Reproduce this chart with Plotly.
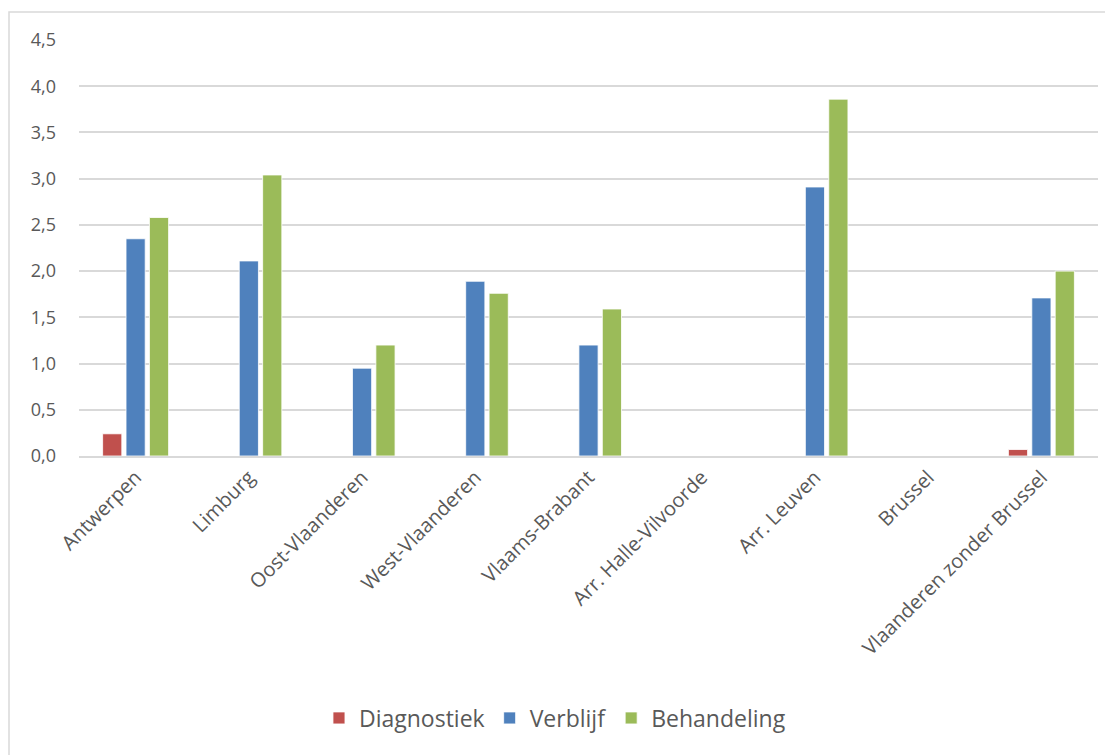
import plotly.graph_objects as go

categories = ["Antwerpen", "Limburg", "Oost-Vlaanderen", "West-Vlaanderen",
              "Vlaams-Brabant", "Arr. Halle-Vilvoorde", "Arr. Leuven", "Brussel",
              "Vlaanderen zonder Brussel"]
diagnostiek = [0.24, None, None, None, None, None, None, None, 0.07]
verblijf = [2.35, 2.11, 0.95, 1.89, 1.20, None, 2.91, None, 1.71]
behandeling = [2.58, 3.04, 1.20, 1.76, 1.59, None, 3.86, None, 2.00]
y_ticks = [0, 0.5, 1.0, 1.5, 2.0, 2.5, 3.0, 3.5, 4.0, 4.5]

series = [("Diagnostiek", diagnostiek, "#C0504D"),
          ("Verblijf", verblijf, "#4F81BD"),
          ("Behandeling", behandeling, "#9BBB59")]

fig = go.Figure()
for name, vals, col in series:
    fig.add_trace(go.Bar(x=categories, y=vals, name=name, marker_color=col,
                         marker_line_color="rgba(255,255,255,0.8)", marker_line_width=1))

# page body has an 8px margin, so the figure is drawn 8px smaller
W, H = 1105, 747
L, R, T, B = 71, 15, 32, 299
pw, ph = W - L - R, H - T - B

def px_to_paper_x(px):
    return (px - L) / pw

def px_to_paper_y(py):
    return (H - B - py) / ph

fig.update_layout(
    width=W, height=H,
    margin=dict(l=L, r=R, t=T, b=B, pad=0, autoexpand=False),
    paper_bgcolor="white", plot_bgcolor="white",
    separators=",.",
    barmode="group", bargap=0.38, bargroupgap=0.18,
    font=dict(family="Open Sans, DejaVu Sans, sans-serif", color="#595959"),
    showlegend=True,
    legend=dict(orientation="h", xref="container", yref="container",
                x=0.495, xanchor="center", y=1 - 710 / H, yanchor="middle",
                font=dict(size=23, color="#595959"), itemwidth=30,
                traceorder="normal"),
    xaxis=dict(tickangle=-45, tickfont=dict(size=20, color="#595959"),
               showline=True, linecolor="#D9D9D9", linewidth=1.5,
               showgrid=False, ticks="", automargin=False),
    yaxis=dict(range=[0, 4.5], tickvals=y_ticks, tickformat=".1f",
               tickfont=dict(size=18, color="#595959"),
               showgrid=True, gridcolor="#D9D9D9", gridwidth=1.5,
               zeroline=False, showline=False, ticks="",
               ticklabelstandoff=22, automargin=False),
    shapes=[dict(type="rect", xref="paper", yref="paper",
                 x0=px_to_paper_x(1), x1=px_to_paper_x(1130),
                 y0=px_to_paper_y(780), y1=px_to_paper_y(4),
                 line=dict(color="#D9D9D9", width=1.5), fillcolor="rgba(0,0,0,0)",
                 layer="below")],
)

fig.write_html("out.html")
